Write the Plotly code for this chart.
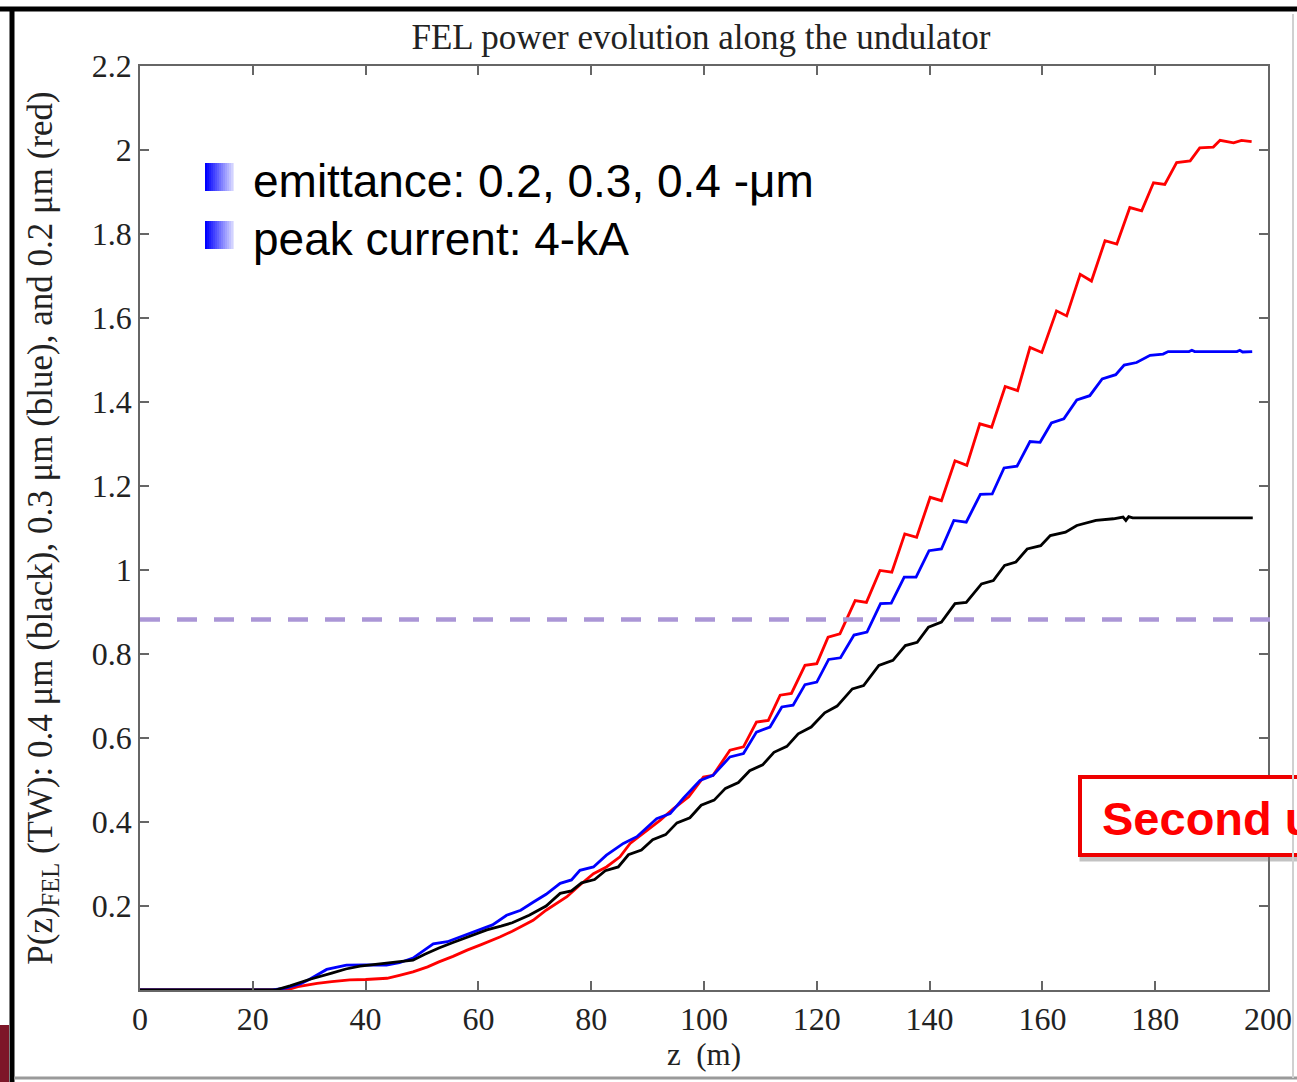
import plotly.graph_objects as go

# ---------------- data ----------------
title_text = "FEL power evolution along the undulator"
x_title = "z  (m)"
y_title = "P(z)<sub>FEL</sub> (TW): 0.4 μm (black), 0.3 μm (blue), and 0.2 μm (red)"
x_tickvals = [0, 20, 40, 60, 80, 100, 120, 140, 160, 180, 200]
y_tickvals = [0.2, 0.4, 0.6, 0.8, 1.0, 1.2, 1.4, 1.6, 1.8, 2.0, 2.2]
y_ticktext = ["0.2", "0.4", "0.6", "0.8", "1", "1.2", "1.4", "1.6", "1.8", "2", "2.2"]

# 0.2 um emittance (red)
z_red = [0, 26, 28, 31.4, 34, 37.2, 40, 43.8, 46, 48.4, 51, 53, 55.5, 58, 60.5, 63.8,
         66, 69.7, 72, 75.7, 78, 80.4, 82.7, 85.1, 86.9, 89.2, 92.2, 94.6, 97.3, 99.9,
         101.6, 104.6, 107.0, 109.3, 111.4, 113.5, 115.5, 117.9, 120.0, 122.0, 124.1,
         126.8, 128.8, 131.2, 133.3, 135.6, 137.7, 140.1, 142.1, 144.5, 146.6, 148.9,
         151.0, 153.4, 155.6, 157.8, 159.9, 162.5, 164.3, 166.7, 168.7, 171.1, 173.2,
         175.5, 177.6, 179.7, 181.7, 183.8, 186.2, 187.9, 190.3, 191.5, 193.9, 195.3, 197.1]
p_red = [0, 0, 0.008, 0.016, 0.020, 0.024, 0.025, 0.028, 0.035, 0.043, 0.055, 0.067, 0.080,
         0.095, 0.108, 0.126, 0.140, 0.166, 0.190, 0.222, 0.250, 0.277, 0.293, 0.317, 0.349,
         0.373, 0.404, 0.432, 0.460, 0.507, 0.511, 0.571, 0.579, 0.638, 0.642, 0.702, 0.706,
         0.773, 0.777, 0.840, 0.848, 0.927, 0.923, 0.999, 0.995, 1.086, 1.078, 1.173, 1.165,
         1.260, 1.249, 1.348, 1.340, 1.437, 1.427, 1.530, 1.518, 1.617, 1.605, 1.704, 1.688,
         1.784, 1.776, 1.863, 1.855, 1.922, 1.918, 1.970, 1.974, 2.005, 2.007, 2.023, 2.017,
         2.023, 2.020]

# 0.3 um emittance (blue)
z_blue = [0, 23.5, 26, 28.5, 30, 33.1, 36.6, 40, 43.7, 46, 48.4, 52, 54.5, 56.7, 60.3, 62.5,
          65, 67.5, 69.7, 72, 74.5, 76.5, 78.0, 80.4, 82.7, 85.7, 88.1, 91.6, 94.0, 96.3,
          99.3, 101.6, 104.6, 107.0, 109.3, 111.7, 113.8, 115.8, 117.9, 120.0, 122.1, 124.2,
          126.6, 128.9, 131.3, 133.2, 135.5, 137.6, 139.9, 142.1, 144.3, 146.5, 149.0, 151.1,
          153.2, 155.5, 157.8, 159.6, 161.6, 163.8, 166.1, 168.4, 170.6, 173.0, 174.5, 176.7,
          179.1, 181.4, 182.3, 186.0, 186.5, 187.0, 194.5, 195.0, 195.5, 197.2]
p_blue = [0, 0, 0.005, 0.015, 0.025, 0.049, 0.059, 0.060, 0.059, 0.065, 0.076, 0.110, 0.115,
          0.126, 0.143, 0.155, 0.178, 0.190, 0.209, 0.228, 0.254, 0.262, 0.285, 0.293, 0.321,
          0.349, 0.365, 0.408, 0.420, 0.456, 0.499, 0.511, 0.555, 0.563, 0.614, 0.626, 0.674,
          0.678, 0.727, 0.733, 0.787, 0.791, 0.845, 0.852, 0.920, 0.921, 0.983, 0.983, 1.046,
          1.050, 1.118, 1.114, 1.180, 1.181, 1.243, 1.247, 1.306, 1.304, 1.350, 1.360, 1.405,
          1.415, 1.455, 1.465, 1.488, 1.494, 1.511, 1.514, 1.520, 1.520, 1.523, 1.520, 1.520,
          1.523, 1.519, 1.520]

# 0.4 um emittance (black)
z_black = [0, 24, 26.6, 30, 34, 36.5, 39, 43.8, 48.4, 50.5, 53, 55.5, 58, 61.5, 64, 66, 69,
           72, 74.5, 76.5, 78.3, 80.6, 82.5, 84.8, 86.6, 88.9, 90.9, 93.2, 95.2, 97.5, 99.5,
           101.8, 103.8, 106.1, 108.1, 110.4, 112.4, 114.7, 116.7, 119.0, 121.4, 123.6, 126.3,
           128.3, 131.0, 133.5, 135.7, 137.8, 139.8, 142.1, 144.5, 146.5, 149.2, 151.3, 153.3,
           155.3, 157.3, 159.7, 161.4, 164.1, 166.1, 169.5, 172.6, 174.3, 174.8, 175.3, 176.0,
           197.3]
p_black = [0, 0, 0.010, 0.025, 0.040, 0.050, 0.057, 0.064, 0.071, 0.085, 0.100, 0.113, 0.126,
           0.143, 0.152, 0.160, 0.178, 0.200, 0.230, 0.236, 0.255, 0.263, 0.284, 0.293, 0.322,
           0.333, 0.358, 0.370, 0.398, 0.410, 0.440, 0.452, 0.480, 0.494, 0.522, 0.536, 0.566,
           0.580, 0.610, 0.626, 0.660, 0.676, 0.717, 0.725, 0.773, 0.785, 0.820, 0.828, 0.864,
           0.876, 0.920, 0.923, 0.967, 0.975, 1.011, 1.019, 1.050, 1.058, 1.082, 1.090, 1.106,
           1.118, 1.122, 1.126, 1.118, 1.127, 1.124, 1.124]

threshold_power = 0.882
legend_lines = ["emittance: 0.2, 0.3, 0.4 -μm", "peak current: 4-kA"]
box_text = "Second u"

# ---------------- layout helpers ----------------
W, H = 1297, 1082
L, R, T, B = 140, 1268, 66, 990


def px(x):
    return (x - L) / (R - L)


def py(y):
    return (B - y) / (B - T)


SERIF = "Liberation Serif, Times New Roman, serif"
SANS = "Liberation Sans, Arial, sans-serif"

fig = go.Figure()
for z, p, c, n in [(z_red, p_red, "#ff0000", "0.2 μm"),
                   (z_blue, p_blue, "#0000ff", "0.3 μm"),
                   (z_black, p_black, "#000000", "0.4 μm")]:
    fig.add_trace(go.Scatter(x=z, y=p, mode="lines", name=n,
                             line=dict(color=c, width=2.8), showlegend=False))

shapes = []
# dashed threshold line
shapes.append(dict(type="line", xref="paper", yref="y", x0=0, x1=px(1276),
                   y0=threshold_power, y1=threshold_power,
                   line=dict(color="#ab96d6", width=4.5, dash="20px,17px")))

# gradient squares for the text bullets
for top in (163, 221):
    n = 14
    for i in range(n):
        t = i / (n - 1)
        r = int(t * 210)
        col = f"rgb({r},{r},255)"
        x0 = 205 + i * 2.0
        shapes.append(dict(type="rect", xref="paper", yref="paper",
                           x0=px(x0), x1=px(x0 + 2.6), y0=py(top + 28), y1=py(top),
                           line=dict(width=0), fillcolor=col, layer="above"))

# red box with shadow
shapes.append(dict(type="rect", xref="paper", yref="paper",
                   x0=px(1082), x1=px(1400), y0=py(859), y1=py(780),
                   line=dict(color="rgba(120,120,120,0.45)", width=5), layer="above"))
shapes.append(dict(type="rect", xref="paper", yref="paper",
                   x0=px(1080), x1=px(1400), y0=py(855), y1=py(777),
                   line=dict(color="#ee0000", width=4), fillcolor="white", layer="above"))

# slide frame decorations
shapes.append(dict(type="line", xref="paper", yref="paper", x0=px(0), x1=px(W),
                   y0=py(9), y1=py(9), line=dict(color="black", width=5)))
shapes.append(dict(type="line", xref="paper", yref="paper", x0=px(12), x1=px(12),
                   y0=py(7), y1=py(H), line=dict(color="black", width=5)))
shapes.append(dict(type="line", xref="paper", yref="paper", x0=px(14), x1=px(W),
                   y0=py(1078), y1=py(1078), line=dict(color="#9a9a9a", width=3)))
shapes.append(dict(type="line", xref="paper", yref="paper", x0=px(1293), x1=px(1293),
                   y0=py(14), y1=py(1078), line=dict(color="#d0d0d0", width=2)))
shapes.append(dict(type="rect", xref="paper", yref="paper", x0=px(0), x1=px(9),
                   y0=py(1082), y1=py(1025), line=dict(width=0), fillcolor="#7d1628"))

annotations = []
for i, txt in enumerate(legend_lines):
    annotations.append(dict(text=txt, xref="paper", yref="paper", x=px(251),
                            y=py(181 + 58 * i), xanchor="left", yanchor="middle",
                            showarrow=False, font=dict(family=SANS, size=46, color="black")))
annotations.append(dict(text="<b>" + box_text + "</b>", xref="paper", yref="paper",
                        x=px(1100), y=py(818), xanchor="left", yanchor="middle",
                        showarrow=False, font=dict(family=SANS, size=47, color="#ff0000")))

fig.update_layout(
    width=W, height=H,
    margin=dict(l=L, r=W - R, t=T, b=H - B, autoexpand=False),
    paper_bgcolor="white", plot_bgcolor="white",
    title=dict(text=title_text, x=px(701), xref="paper", xanchor="center",
               y=1 - 37 / H, yanchor="middle",
               font=dict(family=SERIF, size=35, color="#222")),
    shapes=shapes, annotations=annotations,
    showlegend=False,
)
axis_common = dict(showline=True, mirror="ticks", linecolor="#666", linewidth=1.6,
                   ticks="inside", ticklen=9, tickwidth=1.6, tickcolor="#666",
                   showgrid=False, zeroline=False,
                   tickfont=dict(family=SERIF, size=32, color="#222"))
fig.update_xaxes(range=[0, 200], tickvals=x_tickvals, automargin=False,
                 title=dict(text=x_title, font=dict(family=SERIF, size=31, color="#222"),
                            standoff=4), **axis_common)
fig.update_yaxes(range=[0, 2.2], tickvals=y_tickvals, ticktext=y_ticktext, automargin=False,
                 title=dict(text=y_title, font=dict(family=SERIF, size=35, color="#222"),
                            standoff=29), **axis_common)

fig.write_html("out.html", config={"displayModeBar": False},
               post_script="document.body.style.margin='0';"
                           "document.body.style.overflow='hidden';")
